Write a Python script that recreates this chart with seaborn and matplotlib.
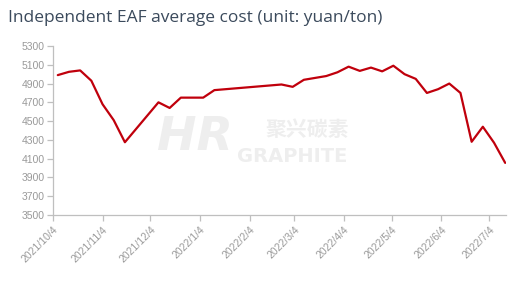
import matplotlib
matplotlib.use("Agg")
import matplotlib.pyplot as plt
import seaborn as sns
import pandas as pd

dates = ["2021-10-07", "2021-10-14", "2021-10-21", "2021-10-28", "2021-11-04",
         "2021-11-11", "2021-11-18", "2021-12-09", "2021-12-16", "2021-12-23",
         "2022-01-06", "2022-01-13", "2022-02-24", "2022-03-03", "2022-03-10",
         "2022-03-17", "2022-03-24", "2022-03-31", "2022-04-07", "2022-04-14",
         "2022-04-21", "2022-04-28", "2022-05-05", "2022-05-12", "2022-05-19",
         "2022-05-26", "2022-06-02", "2022-06-09", "2022-06-16", "2022-06-23",
         "2022-06-30", "2022-07-07", "2022-07-14"]
cost = [4990, 5025, 5040, 4930, 4680,
        4510, 4275, 4700, 4640, 4750,
        4750, 4830, 4890, 4865, 4940,
        4960, 4980, 5020, 5080, 5035,
        5070, 5030, 5090, 5000, 4950,
        4800, 4840, 4900, 4800, 4280,
        4440, 4270, 4055]
tick_dates = ["2021-10-04", "2021-11-04", "2021-12-04", "2022-01-04", "2022-02-04",
              "2022-03-04", "2022-04-04", "2022-05-04", "2022-06-04", "2022-07-04"]
tick_labels = ["2021/10/4", "2021/11/4", "2021/12/4", "2022/1/4", "2022/2/4",
               "2022/3/4", "2022/4/4", "2022/5/4", "2022/6/4", "2022/7/4"]
y_ticks = [3500, 3700, 3900, 4100, 4300, 4500, 4700, 4900, 5100, 5300]
title = "Independent EAF average cost (unit: yuan/ton)"

df = pd.DataFrame({"date": pd.to_datetime(dates), "cost": cost})

sns.set_theme(style="white")
plt.rcParams["font.family"] = ["Liberation Sans", "DejaVu Sans"]

fig = plt.figure(figsize=(5.21, 2.86), dpi=100)
ax = fig.add_axes([53/521, 1-215/286, (506-53)/521, (215-46)/286])

# watermark
wm = "#eeeeee"
fig.text(195/521, 1-138/286, "HR", fontsize=34, fontstyle="italic", fontweight="bold",
         color=wm, ha="center", va="center", family="DejaVu Sans", zorder=0)
fig.text(307/521, 1-129/286, "聚兴碳素", fontsize=15, color=wm, ha="center", va="center",
         family=["Noto Sans CJK SC"], fontweight="bold", zorder=0)
fig.text(292/521, 1-157/286, "GRAPHITE", fontsize=14, color=wm, ha="center", va="center",
         family="DejaVu Sans", fontweight="bold", zorder=0)

sns.lineplot(data=df, x="date", y="cost", ax=ax, color="#c0000c", linewidth=1.6)
ax.patch.set_alpha(0)

ax.set_ylim(3500, 5300)
ax.set_xlim(pd.Timestamp("2021-10-04"), pd.Timestamp("2022-07-14 12:00"))
ax.set_yticks(y_ticks)
ax.set_yticklabels([str(v) for v in y_ticks])
ax.set_xticks(pd.to_datetime(tick_dates))
ax.set_xticklabels(tick_labels, rotation=45, ha="right", rotation_mode="anchor")
ax.set_xlabel("")
ax.set_ylabel("")

for s in ["top", "right"]:
    ax.spines[s].set_visible(False)
for s in ["left", "bottom"]:
    ax.spines[s].set_color("#bfbfbf")
    ax.spines[s].set_linewidth(0.9)
ax.tick_params(axis="both", which="both", direction="out", length=4, width=0.9,
               color="#bfbfbf", labelcolor="#999999", labelsize=7.5)
ax.tick_params(axis="x", bottom=True, pad=3)
ax.tick_params(axis="y", left=True, pad=2)

fig.text(8/521, 1-18/286, title, fontsize=12.5, color="#3b4a5c", ha="left", va="center",
         family="Open Sans")

fig.savefig("out.png", dpi=100)
